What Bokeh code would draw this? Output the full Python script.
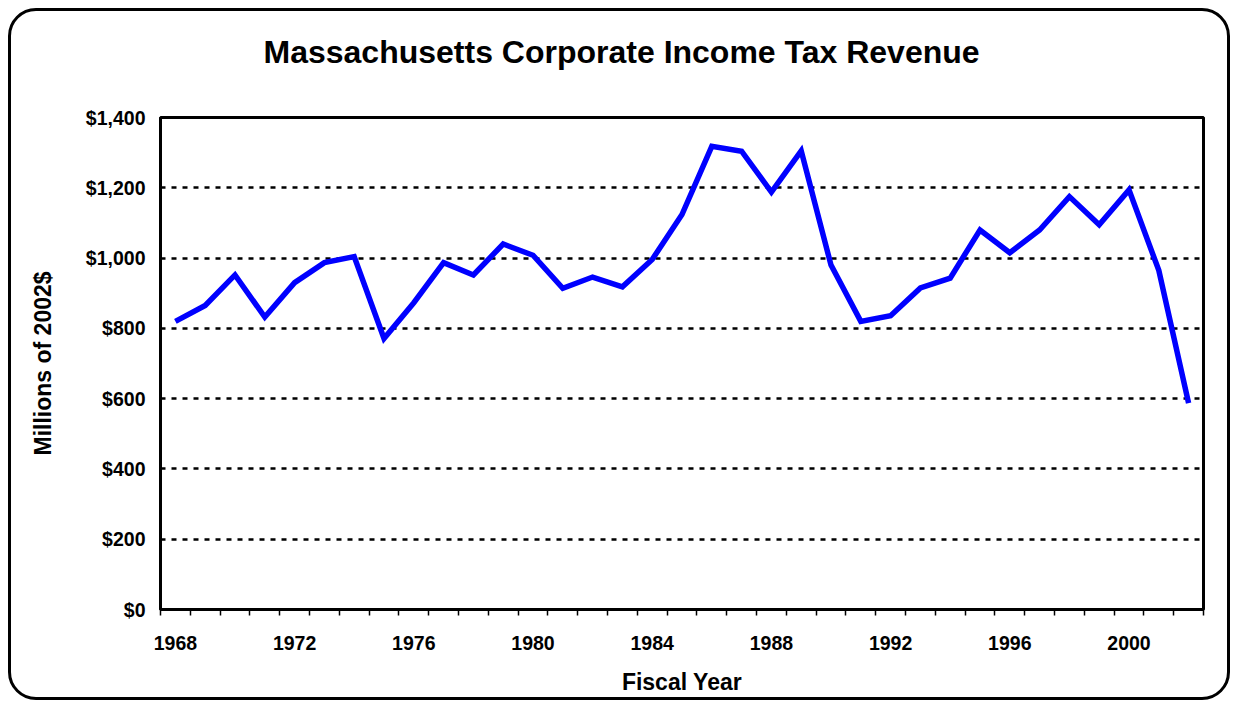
from bokeh.plotting import figure
from bokeh.models import (FixedTicker, NumeralTickFormatter, PrintfTickFormatter,
                          Range1d, InlineStyleSheet)
from bokeh.embed import file_html
from bokeh.resources import INLINE

years = list(range(1968, 2003))
revenue = [820, 865, 952, 832, 930, 987, 1004, 771, 873, 987,
           952, 1040, 1008, 914, 946, 918, 996, 1124, 1318, 1304,
           1188, 1305, 980, 820, 836, 915, 943, 1080, 1015, 1080,
           1175, 1095, 1194, 965, 587]

title_text = "Massachusetts Corporate Income Tax Revenue"
x_title = "Fiscal Year"
y_title = "Millions of 2002$"
x_major = list(range(1968, 2001, 4))
x_minor = [y - 0.5 for y in years] + [years[-1] + 0.5]
y_major = list(range(0, 1401, 200))

FONT = "Liberation Sans"

border_css = InlineStyleSheet(css=(
    ":host { border: 3px solid #000; border-radius: 28px; "
    "margin: 8px 0 0 8px; overflow: hidden; box-sizing: border-box; }"))

p = figure(width=1222, height=692,
           x_range=Range1d(years[0] - 0.5, years[-1] + 0.5),
           y_range=Range1d(0, 1400),
           output_backend="svg", toolbar_location=None,
           min_border_left=149, min_border_right=30,
           min_border_top=106, min_border_bottom=94,
           stylesheets=[border_css])

p.border_fill_color = None
p.background_fill_color = "white"
p.outline_line_color = "black"
p.outline_line_width = 3

# a blank second line lifts the title away from the frame
p.title.text = title_text + "\n "
p.title.text_font = FONT
p.title.text_font_size = "32px"
p.title.text_font_style = "bold"
p.title.text_color = "black"
p.title.align = "left"
p.title.vertical_align = "bottom"
p.title.offset = 103
p.title.standoff = 24

p.line(years, revenue, line_color="#0000FF", line_width=5.5, line_join="miter")

# x axis
p.xaxis.ticker = FixedTicker(ticks=x_major, minor_ticks=x_minor)
p.xaxis.formatter = PrintfTickFormatter(format="%d")
p.xaxis.major_tick_out = 0
p.xaxis.major_tick_in = 0
p.xaxis.minor_tick_out = 6
p.xaxis.minor_tick_in = 0
p.xaxis.minor_tick_line_color = "black"
p.xaxis.minor_tick_line_width = 1.5
p.xaxis.major_label_standoff = 20
p.xaxis.axis_label = x_title
p.xaxis.axis_label_standoff = 16

# y axis
p.yaxis.ticker = FixedTicker(ticks=y_major)
p.yaxis.formatter = NumeralTickFormatter(format="$0,0")
p.yaxis.major_tick_out = 0
p.yaxis.major_tick_in = 0
p.yaxis.minor_tick_out = 0
p.yaxis.minor_tick_in = 0
p.yaxis.major_label_standoff = 15
p.yaxis.axis_label = y_title
p.yaxis.axis_label_standoff = 27

for ax in (p.xaxis, p.yaxis):
    ax.axis_line_width = 3
    ax.axis_line_color = "black"
    ax.major_label_text_font = FONT
    ax.major_label_text_font_size = "19.5px"
    ax.major_label_text_font_style = "bold"
    ax.major_label_text_color = "black"
    ax.axis_label_text_font = FONT
    ax.axis_label_text_font_size = "23px"
    ax.axis_label_text_font_style = "bold"
    ax.axis_label_text_color = "black"

p.xgrid.visible = False
p.ygrid.ticker = FixedTicker(ticks=y_major)
p.ygrid.grid_line_color = "black"
p.ygrid.grid_line_width = 2.5
p.ygrid.grid_line_dash = "5 6"

open("out.html", "w").write(file_html(p, INLINE))
